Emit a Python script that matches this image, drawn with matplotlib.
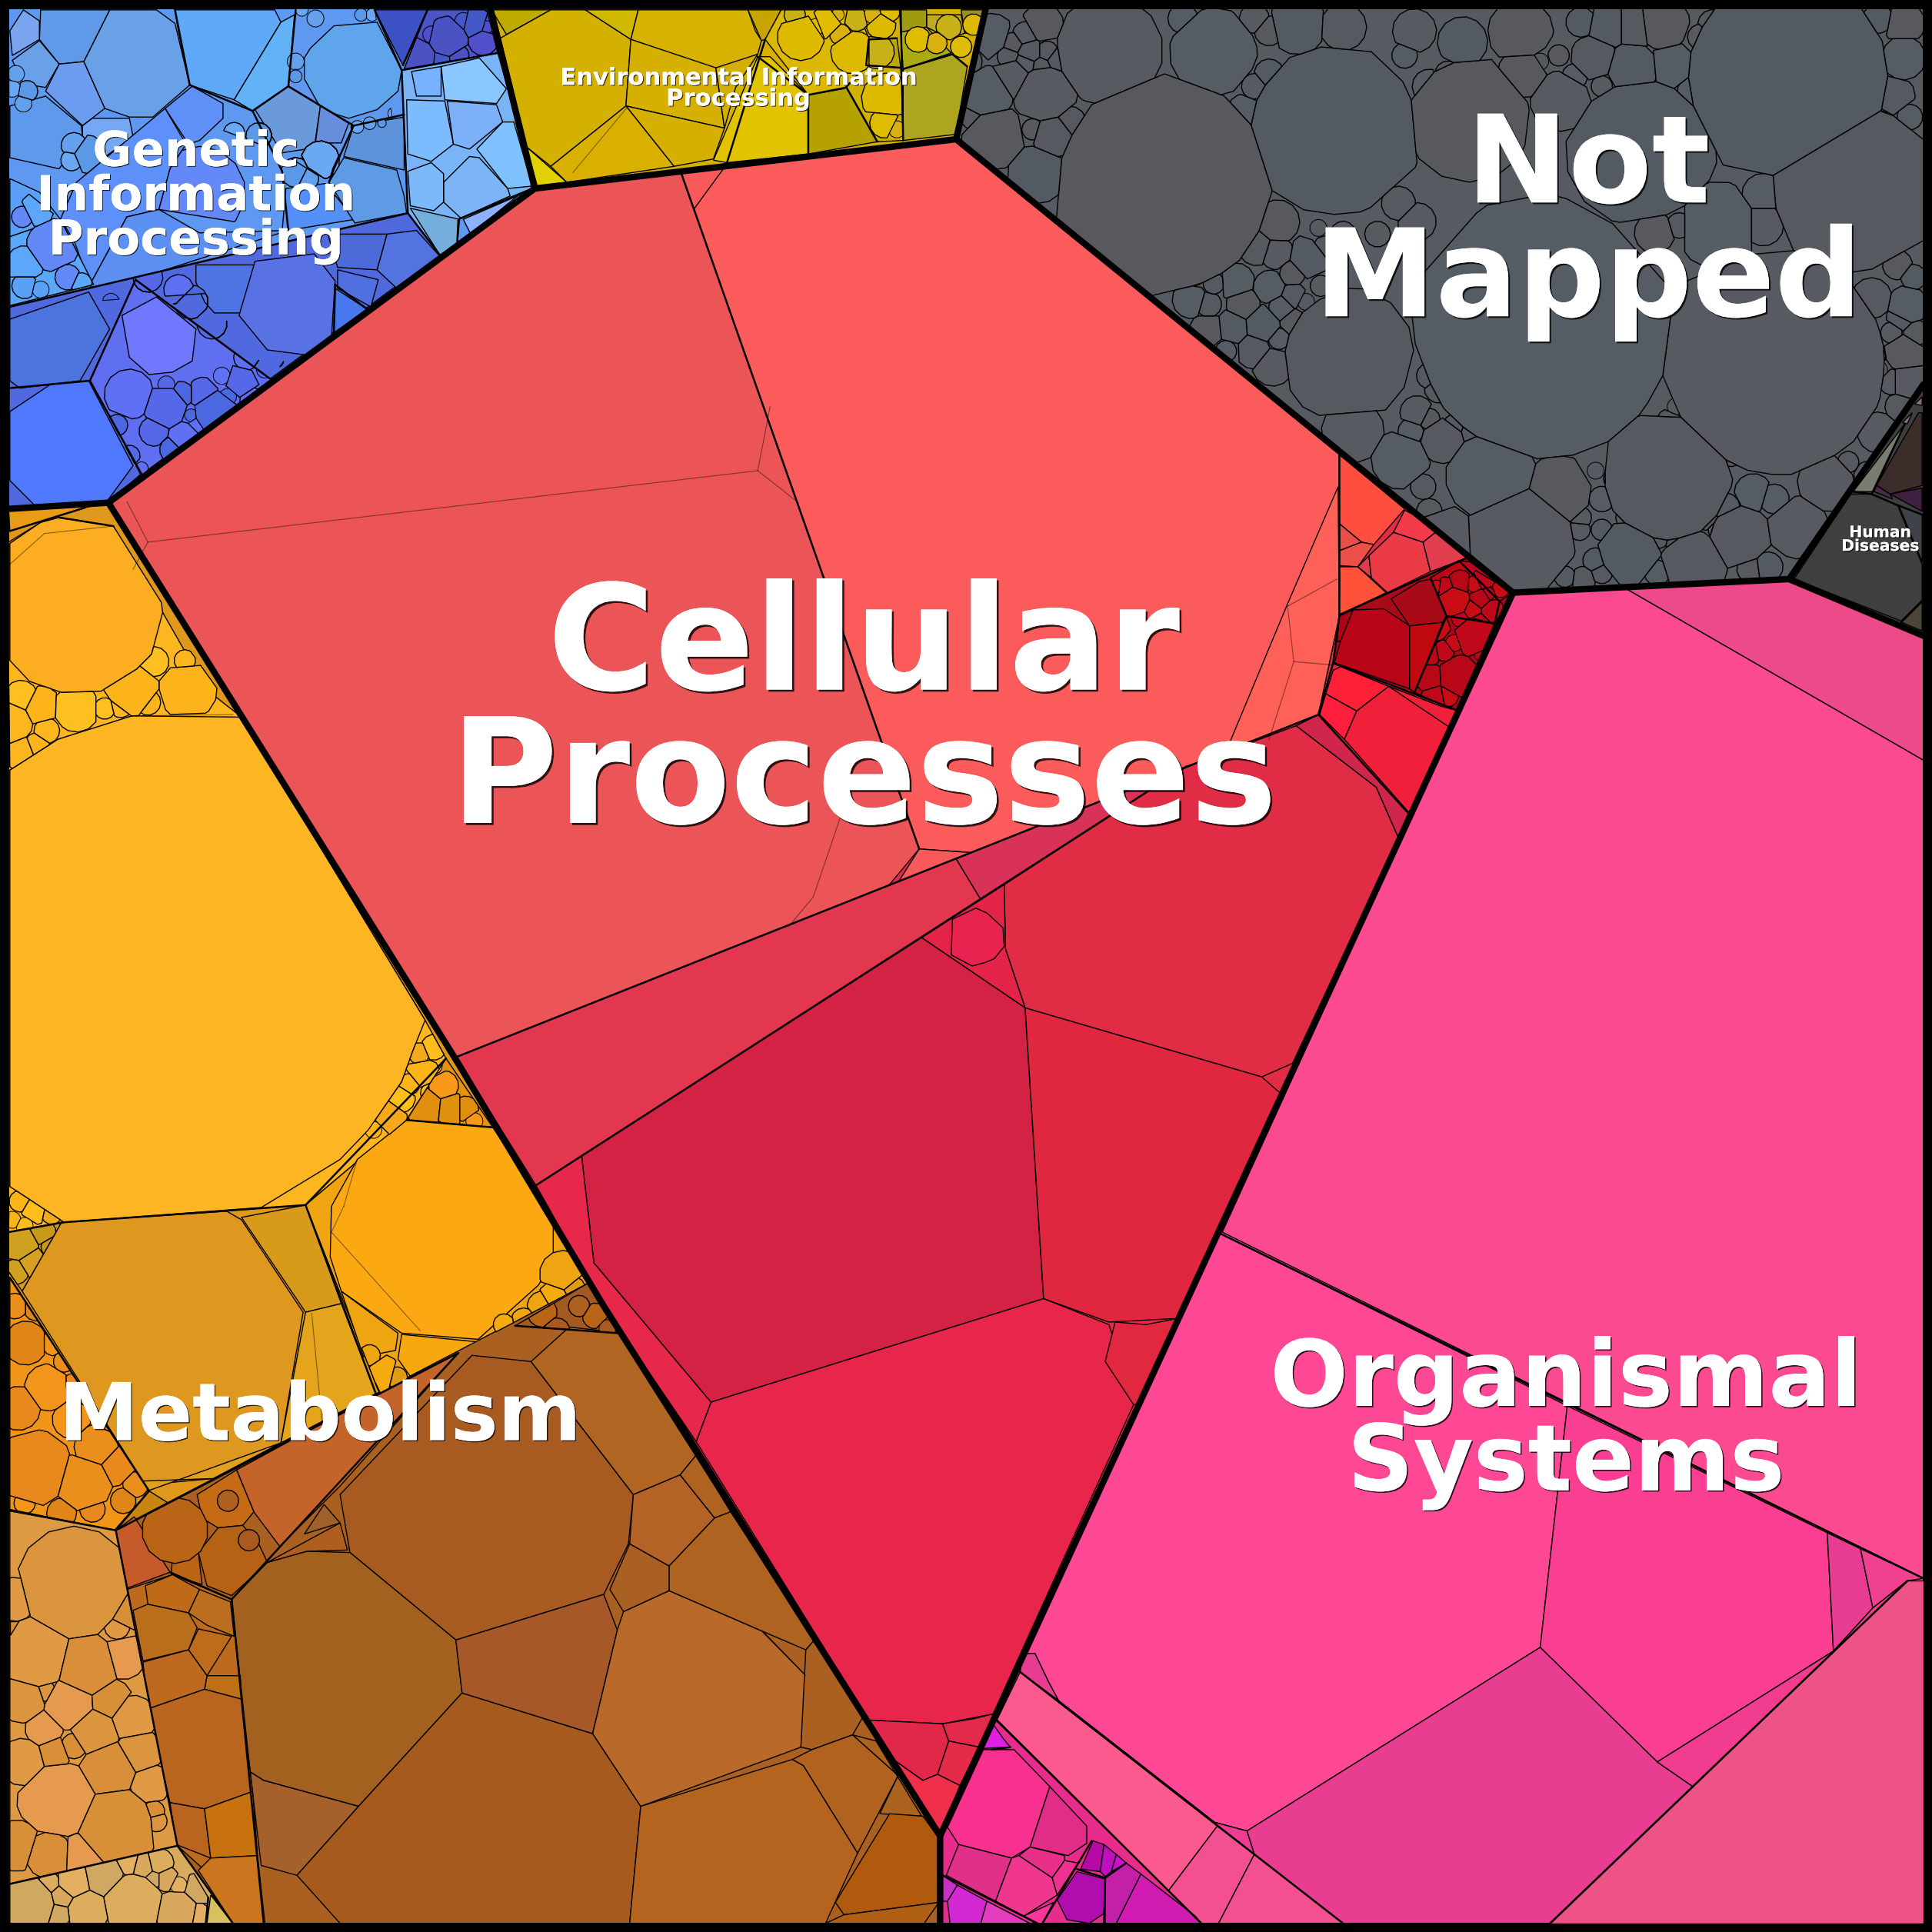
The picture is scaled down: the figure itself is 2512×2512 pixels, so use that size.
#!/usr/bin/env python

import matplotlib
matplotlib.use("Agg")
import matplotlib.pyplot as plt
import matplotlib.patheffects as pe
from matplotlib.patches import Polygon, Rectangle
import numpy as np

# top level regions and their fill under the cells
genetic_region = [(7,7),(398,7),(434,153),(88,408),(7,413)]
env_region = [(398,7),(800,7),(776,113),(434,153)]
notmapped_region = [(800,7),(1561,7),(1561,312),(1452,470),(1228,481),(776,113)]
disease_region = [(1561,312),(1561,516),(1452,470)]
organismal_region = [(1228,481),(1452,470),(1561,516),(1561,1561),(763,1561),(763,1490)]
metabolism_region = [(7,413),(88,408),(370,860),(490,1060),(763,1490),(763,1561),(7,1561)]
cellular_region = [(88,408),(434,153),(776,113),(1228,481),(763,1490),(370,860)]

region_fills = [
    (genetic_region, "#5E98F0"), (env_region, "#D5B000"), (notmapped_region, "#565B61"),
    (disease_region, "#3F3F40"), (organismal_region, "#FB4A90"),
    (metabolism_region, "#E0981C"), (cellular_region, "#E02D45"),
]

cellular_cells = [
    ("#EB5558", [(88,408),(434,153),(552,138),(746,689),(716,725),(370,858)]),
    ("#FB5B5B", [(552,138),(776,113),(1087,367),(1087,500),(1070,580),(789,692),(746,689)]),
    ("#FF6057", [(1086,395),(1087,500),(1070,580),(995,610),(1045,490)]),
    ("#F85A5A", [(552,138),(590,133),(563,170)]),
    ("#F85A5A", [(746,689),(789,692),(729,716)]),
    ("#E2374F", [(370,858),(776,697),(796,730),(435,962)]),
    ("#D93258", [(776,697),(963,622),(796,730)]),
    ("#E02D45", [(815,718),(963,622),(1052,589),(1117,639),(1135,680),(1049,863),(1024,874),(832,818),(816,770)]),
    ("#D0264C", [(1052,589),(1070,580),(1143,660),(1135,680),(1117,639)]),
    ("#E42348", [(748,761),(815,718),(816,770),(832,818)]),
    ("#E9234F", [(773,746),(792,737),(801,741),(814,753),(815,768),(807,778),(800,781),(789,784),(772,775)]),
    ("#D32244", [(472,938),(748,761),(832,818),(847,1054),(577,1138),(482,1025)]),
    ("#E1273F", [(832,818),(1024,874),(1040,888),(956,1070),(900,1073),(847,1054)]),
    ("#E8254A", [(577,1138),(847,1054),(900,1075),(920,1140),(806,1391),(765,1399),(705,1396),(565,1170)]),
    ("#E8284A", [(435,962),(472,938),(482,1025),(577,1138),(565,1170),(490,1060)]),
    ("#E1283F", [(897,1105),(905,1073),(930,1075),(956,1070),(924,1140),(920,1140)]),
    ("#E2284A", [(705,1396),(765,1399),(770,1413),(761,1440),(749,1445),(725,1428)]),
    ("#E4294A", [(765,1399),(790,1395),(806,1391),(795,1418),(770,1413)]),
    ("#F0304A", [(725,1428),(749,1445),(761,1440),(779,1449),(763,1490)]),
    ("#E52A4A", [(770,1413),(795,1418),(779,1449),(761,1440)]),
    # red corner on the right
    ("#FF4E40", [(1087,369),(1140,413),(1115,442),(1105,440),(1087,425)]),
    ("#E94E48", [(1087,425),(1105,440),(1087,447)]),
    ("#EC5048", [(1087,447),(1105,440),(1115,442),(1102,460),(1087,459)]),
    ("#FF5238", [(1087,460),(1102,460),(1125,481),(1087,499)]),
    ("#E03C4C", [(1102,460),(1111,451),(1113,469)]),
    ("#E93A45", [(1111,451),(1131,432),(1155,440),(1161,464),(1126,481),(1113,469)]),
    ("#F23A4A", [(1140,414),(1131,432),(1155,440),(1169,429)]),
    ("#E33D50", [(1155,440),(1169,429),(1184,447),(1190,453),(1161,464)]),
    ("#A90A1A", [(1087,499),(1190,453),(1228,481),(1184,577),(1082,538)]),
    ("#B80518", [(1098,495),(1123,494),(1144,508),(1144,559),(1083,538),(1088,520)]),
    ("#A80A18", [(1129,486),(1152,472),(1161,470),(1174,499),(1171,505),(1144,508)]),
    ("#C00A10", [(1144,508),(1171,505),(1148,562),(1144,559)]),
    ("#B00015", [(1087,500),(1098,495),(1088,520),(1085,521)]),
    ("#BC0515", [(1161,469),(1184,455),(1217,488),(1213,506),(1174,500)]),
    ("#BB0420", [(1184,455),(1193,456),(1228,481),(1217,488)]),
    ("#A80818", [(1174,500),(1213,506),(1182,577),(1148,562)]),
    ("#F01F3A", [(1091,600),(1101,577),(1127,557),(1169,573),(1176,590),(1144,660)]),
    ("#FF1E3C", [(1071,580),(1076,563),(1101,577),(1091,600)]),
    ("#FF2038", [(1082,544),(1088,541),(1127,557),(1101,577),(1076,563)]),
    ("#F02038", [(1127,557),(1169,573),(1184,577),(1176,590)]),
]

organismal_cells = [
    ("#EC4A88", [(1320,478),(1452,470),(1561,516),(1561,617)]),
    ("#FB4A8F", [(1228,481),(1320,478),(1561,617),(1561,1281),(992,1000)]),
    ("#FE4896", [(988,1000),(1272,1141),(1250,1337),(1012,1486),(986,1479),(859,1380),(851,1365),(840,1342),(830,1342)]),
    ("#FA3F92", [(1272,1141),(1483,1244),(1488,1340),(1345,1430),(1250,1337)]),
    ("#E93D92", [(1012,1486),(1250,1337),(1345,1430),(1374,1450),(1258,1561),(1090,1561),(1018,1505)]),
    ("#E83C92", [(1483,1244),(1510,1257),(1520,1305),(1488,1340)]),
    ("#F04090", [(1510,1257),(1561,1281),(1548,1283),(1520,1305)]),
    ("#F23C90", [(1345,1430),(1488,1340),(1520,1305),(1548,1283),(1374,1450)]),
    ("#ED5387", [(1548,1283),(1561,1283),(1561,1561),(1258,1561)]),
    ("#FB5A8E", [(828,1357),(988,1482),(948,1535),(809,1396)]),
    ("#F25090", [(988,1482),(1018,1505),(989,1561),(975,1561),(948,1535)]),
    ("#F35090", [(1018,1505),(1090,1561),(989,1561)]),
    ("#E83C92", [(828,1357),(830,1342),(840,1342),(851,1365),(859,1380)]),
    ("#EE3C92", [(986,1479),(1012,1486),(1018,1505),(988,1482)]),
    # cluster under the band
    ("#E82C8C", [(763,1490),(808,1396),(975,1561),(763,1561)]),
    ("#F8308F", [(798,1420),(823,1420),(852,1450),(836,1499),(821,1508),(778,1497),(769,1483)]),
    ("#E02E88", [(852,1450),(882,1482),(882,1496),(867,1506),(836,1499)]),
    ("#E0308A", [(778,1497),(821,1508),(808,1543),(768,1522)]),
    ("#F0378F", [(821,1508),(827,1506),(854,1524),(858,1538),(831,1555),(808,1543)]),
    ("#E8308A", [(827,1506),(836,1499),(864,1506),(864,1510),(854,1524)]),
    ("#EE3090", [(864,1510),(875,1512),(858,1538),(854,1524)]),
    ("#F8359A", [(831,1555),(855,1544),(846,1561),(840,1561)]),
    ("#C930C8", [(765,1522),(777,1530),(769,1543),(765,1543)]),
    ("#D528D5", [(777,1530),(801,1543),(796,1561),(771,1561),(769,1543)]),
    ("#E33DBE", [(801,1543),(836,1561),(796,1561)]),
    ("#B00DAE", [(874,1519),(897,1525),(896,1553),(884,1561),(866,1558),(858,1542)]),
    ("#B708A8", [(887,1494),(896,1497),(893,1519),(877,1517)]),
    ("#C010BE", [(896,1497),(906,1505),(902,1519),(897,1523),(893,1519)]),
    ("#CC10CC", [(906,1505),(914,1512),(902,1519)]),
    ("#C41FA8", [(914,1512),(926,1521),(906,1561),(897,1561),(897,1524)]),
    ("#D01CB0", [(926,1521),(970,1555),(975,1561),(906,1561)]),
    ("#E020E0", [(805,1398),(815,1412),(820,1418),(798,1419)]),
]

metabolism_cells = [
    ("#FDB61E", [(7,440),(33,424),(92,427),(168,560),(196,582),(345,828),(362,859),(330,909),(248,978),(52,992),(7,1000)]),
    ("#E89A18", [(7,413),(88,408),(69,412),(8,431)]),
    ("#FDAD22", [(33,424),(48,420),(92,427),(131,489),(132,497),(123,531),(111,543),(82,561),(50,562),(24,553),(8,536),(8,441)]),
    ("#FEB524", [(8,625),(47,600),(107,581),(196,582),(345,828),(335,853),(326,878),(299,917),(276,941),(212,980),(52,992),(8,963)]),
    ("#E59210", [(362,859),(400,915),(330,909)]),
    ("#EFA512", [(330,909),(400,915),(478,1041),(308,1131),(248,978)]),
    ("#FBA812", [(330,909),(400,915),(449,990),(449,1023),(437,1043),(388,1087),(326,1082),(277,1048),(268,1020),(269,979),(290,941)]),
    ("#F8A80F", [(326,1083),(387,1089),(333,1117),(323,1103)]),
    ("#EFA512", [(277,1048),(323,1082),(321,1096),(295,1101)]),
    ("#D59D20", [(7,1000),(50,992),(18,1048),(7,1032)]),
    ("#DE9820", [(50,992),(184,983),(196,990),(246,1065),(228,1171),(173,1200),(140,1203),(116,1202),(18,1048)]),
    ("#D79A1A", [(196,988),(248,978),(277,1058),(248,1065)]),
    ("#E4A51C", [(248,1065),(277,1058),(305,1131),(228,1171)]),
    ("#E0A020", [(116,1202),(173,1200),(228,1171),(120,1210)]),
    ("#F19518", [(8,1037),(121,1210),(93,1242),(8,1225)]),
    ("#C8850F", [(121,1210),(140,1222),(93,1242)]),
    # brown part
    ("#A96020", [(93,1242),(478,1041),(502,1082),(763,1490),(763,1561),(7,1561),(144,1498)]),
    ("#A35A22", [(418,1076),(478,1041),(502,1082)]),
    ("#A85B20", [(383,1100),(431,1105),(514,1213),(510,1253),(490,1294),(370,1331),(284,1260),(276,1213)]),
    ("#A3611F", [(188,1298),(217,1268),(249,1259),(284,1260),(370,1331),(375,1374),(291,1466),(214,1445),(203,1438)]),
    ("#A6602B", [(203,1438),(214,1445),(291,1466),(241,1522),(212,1514)]),
    ("#A65A1E", [(375,1374),(481,1407),(520,1466),(511,1561),(276,1561),(241,1522),(291,1466)]),
    ("#A65828", [(370,1331),(490,1294),(501,1323),(481,1407),(375,1374)]),
    ("#B96A2B", [(543,1291),(619,1324),(654,1360),(650,1418),(520,1466),(481,1407),(501,1323),(506,1308)]),
    ("#B06522", [(431,1105),(462,1077),(506,1082),(565,1181),(552,1197),(514,1213)]),
    ("#B56226", [(514,1213),(552,1197),(580,1232),(543,1271),(511,1253)]),
    ("#AE6320", [(552,1197),(565,1181),(593,1227),(580,1232)]),
    ("#AE6320", [(580,1232),(593,1227),(661,1331),(654,1339),(619,1324),(543,1291),(543,1271)]),
    ("#A96022", [(511,1253),(543,1271),(543,1291),(506,1308),(495,1290)]),
    ("#A96020", [(654,1339),(661,1331),(700,1394),(692,1408),(659,1420),(650,1418)]),
    ("#B1621F", [(659,1420),(692,1408),(729,1441),(696,1504),(652,1433),(643,1428)]),
    ("#B5641F", [(520,1466),(643,1428),(652,1433),(696,1504),(670,1561),(511,1561)]),
    ("#AD6320", [(692,1408),(711,1413),(748,1474),(714,1472),(729,1441)]),
    ("#B05A0E", [(722,1472),(749,1474),(762,1492),(762,1544),(685,1554),(678,1544)]),
    ("#B06015", [(685,1554),(762,1544),(750,1561),(670,1561)]),
    ("#C4642A", [(192,1193),(306,1131),(372,1098),(276,1206),(227,1255),(206,1227)]),
    ("#C56A15", [(160,1213),(192,1193),(206,1227),(197,1238),(177,1240),(164,1232)]),
    ("#B56214", [(177,1240),(197,1238),(210,1253),(217,1268),(188,1295),(168,1287),(161,1260)]),
    ("#BB6415", [(139,1278),(140,1263),(161,1260),(164,1286)]),
    ("#C75A2B", [(94,1242),(109,1231),(138,1276),(103,1289)]),
    ("#AF5E1F", [(276,1236),(282,1258),(249,1259),(217,1268)]),
    ("#A06028", [(263,1221),(276,1236),(247,1245)]),
    ("#BD6A1E", [(140,1278),(188,1298),(214,1561),(144,1498),(103,1290)]),
    ("#BF6A18", [(118,1287),(140,1278),(162,1290),(153,1309),(120,1302)]),
    ("#B96E1C", [(108,1307),(120,1302),(153,1309),(160,1321),(153,1339),(116,1348)]),
    ("#BD6C1C", [(161,1322),(188,1328),(168,1360),(153,1339)]),
    ("#BB6E1E", [(153,1309),(162,1290),(187,1300),(190,1328),(168,1319)]),
    ("#BE7018", [(168,1360),(195,1360),(196,1379),(166,1371)]),
    ("#BD6A20", [(116,1349),(153,1339),(168,1360),(166,1371),(120,1387)]),
    ("#B96520", [(120,1387),(166,1371),(196,1379),(205,1454),(166,1468),(138,1463)]),
    ("#B96520", [(138,1463),(166,1468),(171,1508),(143,1497)]),
    ("#C8720F", [(166,1468),(205,1454),(209,1506),(171,1508)]),
    ("#CB7520", [(161,1518),(171,1508),(209,1506),(215,1561),(189,1561)]),
    # light parts at the lower left
    ("#DE9A42", [(8,1226),(94,1242),(144,1498),(8,1529)]),
    ("#D8AA5B", [(8,1529),(144,1498),(189,1561),(8,1561)]),
    ("#D8C060", [(171,1538),(189,1561),(168,1561)]),
]

env_cells = [
    ("#BFAA00", [(399,8),(447,8),(411,28)]),
    ("#D4B000", [(447,8),(475,8),(512,32),(508,86),(447,135),(427,119),(406,31)]),
    ("#D1B800", [(475,8),(518,8),(512,32)]),
    ("#D7B200", [(518,8),(607,8),(613,25),(618,33),(615,44),(582,56),(512,32)]),
    ("#D6B000", [(512,32),(581,55),(588,104),(508,86)]),
    ("#D6B000", [(508,86),(588,104),(579,129),(547,135)]),
    ("#DAB000", [(508,86),(547,135),(460,148),(447,135)]),
    ("#D4AE00", [(581,55),(615,44),(597,71),(588,104)]),
    ("#C8A400", [(607,8),(634,8),(621,32),(618,33)]),
    ("#E2C300", [(615,46),(625,46),(656,77),(656,125),(590,132),(579,130)]),
    ("#B5A200", [(656,77),(687,71),(712,115),(656,125)]),
    ("#DCB800", [(621,32),(634,8),(696,8),(705,31),(703,53),(685,72),(656,77)]),
    ("#D0B000", [(703,53),(731,55),(733,114),(712,115),(687,71)]),
    ("#B8A800", [(705,32),(728,31),(731,55),(703,53)]),
    ("#ADA520", [(733,56),(773,44),(785,54),(776,109),(733,114)]),
    ("#A8AC10", [(731,26),(752,22),(772,43),(733,56)]),
    ("#C0A828", [(752,12),(780,12),(783,27),(770,31),(752,22)]),
    ("#9A9020", [(780,8),(800,8),(791,26),(783,27)]),
    ("#A09A10", [(730,8),(752,8),(752,22),(731,26)]),
    ("#E2D000", [(427,119),(460,148),(436,151)]),
]

genetic_cells = [
    ("#6AA0E8", [(89,8),(127,8),(142,19),(154,69),(124,95),(105,95),(85,88),(68,50)]),
    ("#5F99E8", [(33,8),(89,8),(68,50),(48,52),(32,32)]),
    ("#6C9CF0", [(48,52),(68,50),(85,88),(67,102),(37,74)]),
    ("#7AA5EE", [(8,25),(19,8),(32,17),(32,32),(10,45)]),
    ("#6AA0E8", [(10,49),(32,33),(48,52),(37,71),(19,68)]),
    ("#5F99EC", [(8,86),(37,78),(66,102),(67,111),(48,137),(8,128)]),
    ("#74A8F4", [(75,96),(105,96),(108,111),(80,131),(67,111),(67,102)]),
    ("#60A8F8", [(142,8),(223,8),(228,18),(190,81),(154,69),(145,26)]),
    ("#62B2F8", [(228,18),(239,12),(234,70),(205,90),(190,81)]),
    ("#5FA5EC", [(252,39),(271,21),(306,18),(326,57),(323,74),(306,89),(283,96),(261,89),(247,64),(247,47)]),
    ("#5E90F8", [(134,88),(156,70),(181,84),(181,96),(162,114),(153,117)]),
    ("#5D90F8", [(62,148),(134,88),(151,117),(138,137),(129,170),(103,176),(73,231),(60,195),(49,178)]),
    ("#5490F8", [(229,187),(232,153),(264,149),(288,178),(234,187)]),
    ("#6A9ADC", [(207,89),(234,70),(260,86),(255,120),(229,124)]),
    ("#668EDC", [(260,86),(283,100),(277,116),(256,116)]),
    ("#5D93DA", [(279,127),(328,138),(328,95),(287,102)]),
    ("#5F9AE4", [(279,128),(322,138),(328,159),(330,173),(288,181),(267,148)]),
    ("#5B8FF2", [(73,231),(103,176),(129,170),(162,189),(234,187),(75,238)]),
    ("#5BA8FA", [(8,192),(49,178),(76,231),(8,248)]),
    ("#5BA0F8", [(8,145),(32,156),(49,178),(8,192)]),
    ("#5069DE", [(8,249),(331,173),(357,206),(114,385),(88,408),(7,413)]),
    ("#4D74DE", [(8,259),(72,237),(89,267),(65,309),(16,315),(8,309)]),
    ("#5F6FF0", [(110,227),(220,308),(115,385),(73,309)]),
    ("#6F78FF", [(99,256),(127,241),(159,267),(156,293),(140,302),(121,304),(105,290)]),
    ("#4F78FC", [(8,334),(41,312),(72,309),(108,378),(86,408),(29,411),(8,390)]),
    ("#4E73E2", [(159,215),(207,215),(196,254),(174,254),(166,245),(159,229)]),
    ("#5872E4", [(207,212),(255,206),(272,228),(269,274),(248,288),(217,284),(194,256)]),
    ("#5374E0", [(314,190),(338,187),(357,208),(322,234),(306,219)]),
    ("#4C6AD8", [(266,190),(314,190),(306,219),(274,217)]),
    ("#5070E0", [(274,219),(307,227),(301,249),(274,234)]),
    ("#4878F0", [(272,234),(298,251),(271,270)]),
    ("#7AB4F8", [(326,57),(404,43),(435,153),(372,178),(357,207),(331,173)]),
    ("#7DBBFF", [(330,81),(361,82),(368,117),(350,131),(331,125)]),
    ("#8AC6FF", [(358,54),(389,47),(411,72),(403,84),(361,81)]),
    ("#78B2FF", [(334,58),(358,54),(358,78),(338,78)]),
    ("#7CB0F8", [(363,82),(403,85),(408,99),(381,121),(368,117)]),
    ("#7FC0FF", [(408,99),(417,99),(432,151),(412,153),(387,121)]),
    ("#7CB4F5", [(360,148),(381,127),(389,128),(412,153),(414,159),(374,177),(360,164)]),
    ("#7CB9FA", [(331,139),(350,132),(360,141),(360,164),(352,171),(333,167)]),
    ("#75AEDD", [(333,169),(373,178),(371,199),(357,207)]),
    ("#8DB0FF", [(376,178),(420,159),(382,190)]),
    ("#3C52C4", [(304,8),(347,8),(327,53)]),
    ("#4B55C8", [(347,8),(395,8),(404,43),(328,56)]),
]

disease_cells = [
    ("#3F3F40", [(1502,401),(1519,401),(1540,410),(1560,458),(1560,487),(1543,504),(1456,470)]),
    ("#40424A", [(1541,410),(1560,418),(1560,456)]),
    ("#4D453A", [(1543,505),(1560,488),(1560,512)]),
    ("#797D70", [(1504,399),(1546,344),(1521,399)]),
    ("#3D2D2A", [(1523,394),(1557,335),(1560,335),(1560,394),(1534,401)]),
    ("#3E2040", [(1534,401),(1560,396),(1560,415)]),
    ("#4A2A48", [(1521,399),(1523,394),(1534,401),(1536,405)]),
    ("#8C6A8C", [(1544,343),(1552,335),(1548,344)]),
    ("#8A6A8A", [(1554,328),(1560,322),(1560,329)]),
]

# small round cells, centre x, centre y, radius
notmapped_bubbles = [
    (899,41,40),(985,42,32),(945,150,85),(1082,106,66),(1093,288,49),(848,76,21),(800,76,18),
    (807,111,21),(842,141,19),(855,110,14),(822,62,12),(805,30,11),(846,20,10),(1053,20,19),
    (1090,22,15),(1148,25,14),(967,243,9),(981,268,9),(1025,264,11),(1018,284,9),(1033,296,10),
    (1003,229,9),(1037,180,14),(1062,210,12),(1020,200,9),(1036,205,8),(1031,233,8),(1009,247,8),
    (1000,266,9),(981,247,6),(1098,350,20),(1137,373,19),(1049,222,6),
    (1451,62,80),(1505,152,65),(1441,295,88),(1252,270,100),(1192,96,46),(1332,122,55),(1353,388,50),
    (1234,438,42),(1395,183,28),(1234,26,21),(1187,34,16),(1411,435,22),(1459,428,20),(1210,385,33),
    (1265,400,24),(1322,447,23),(1374,456,23),(1483,391,19),(1423,400,9),(1236,59,16),(1324,56,17),
    (1293,47,15),(1267,81,20),(1358,53,12),(1350,19,17),(1304,22,12),(1327,22,11),(1548,310,11),
    (1548,248,13),(1545,286,12),(1543,258,7),(1519,242,13),(1524,351,13),(1545,47,14),(1545,19,10),
    (1524,15,7),(1537,78,10),(1431,183,13),(1431,158,10),(1343,189,13),(1363,183,6),(1171,357,15),
    (1169,441,25),
    (832,28,6),(822,35,5),(836,42,7),(850,42,5),(818,46,5),(832,52,6),(845,54,5),(858,48,6),
    (868,100,8),(875,120,5),(880,140,5),(838,105,5),(785,50,7),(790,95,6),(1018,70,6),(1010,90,8),
    (1020,110,5),(1030,60,7),(1000,95,5),(1018,15,7),(960,15,7),(1030,25,7),
    (1050,240,6),(1060,245,4),(1072,232,5),(1040,250,6),(1050,262,7),(1062,262,5),(1058,280,7),
    (1075,262,6),(1038,275,5),(1005,190,6),(1075,200,5),(1090,190,6),(1070,185,4),
    (995,285,5),(970,225,4),(985,230,5),(1200,330,6),(1118,190,6),(1160,70,8),(1175,60,6),
    (1225,100,6),(1135,165,8),(1150,180,9),(1140,45,6),(1390,20,7),(1405,40,6),(1392,60,10),
    (1380,30,6),(1375,75,8),(1265,45,5),(1283,18,7),(1250,50,4),(1300,70,5),(1278,62,6),
    (1490,18,8),(1535,135,7),(1545,130,6),(1525,100,6),(1550,95,6),(1540,215,7),(1553,225,6),
    (1555,270,6),(1535,270,5),(1515,270,5),(1500,340,7),(1510,320,5),(1542,330,7),(1535,310,6),
    (1520,290,6),(1525,300,4),(1295,455,6),(1282,430,5),(1283,420,5),(1300,405,6),
    (1420,430,5),(1400,412,7),(1385,420,6),(1390,405,5),(1440,405,7),(1395,430,5),(1362,440,6),
    (1345,435,6),(1295,382,4),(1310,388,5),(1320,420,5),(1300,430,5),(1355,342,6),(1380,350,5),
    (1375,360,6),(1360,330,4),(1160,305,6),(1168,315,7),(1150,335,8),(1145,350,6),(1160,340,5),
    (1180,345,5),(1155,395,6),(1160,415,6),(1185,470,7),(1205,467,6),(1270,468,5),(1285,470,6),
    (1300,465,5),(1345,465,6),(1420,462,6),(1435,460,7),(1195,350,6),(1405,370,5),(1410,355,5),
    (1528,375,6),(1515,385,6),(1500,375,5),(1495,440,6),(1480,455,6),
]

gold_bubbles = [(8,587,15),(33,574,10),(17,566,8),(17,610,9),(30,605,6),(60,610,5),(38,593,6),(152,560,19),(125,537,7),(150,536,5),(107,560,18),(62,575,15),(98,572,6),(120,570,6),(85,575,5)]
strip_bubbles = [
    (343,871,8),(325,891,7),(315,905,9),(303,917,4),(352,850,6),(340,855,5),(332,880,5),
    (350,887,5),(16,975,5),(28,982,7),(42,985,5),(10,990,4),(20,995,4),
]
triangle_bubbles = [(346,898,10),(360,881,7),(366,900,8),(378,900,6),(385,910,4),(352,865,4)]
orange_bubbles = [
    (457,1034,11),(450,1054,8),(466,1045,5),(440,1060,7),(310,1115,9),(322,1118,5),(300,1100,5),
    (300,1120,5),(292,1110,4),(425,1072,6),(409,1075,5),
]
olive_bubbles = [(17,1010,11),(35,1000,6),(26,1024,8),(13,1032,6),(42,1012,5)]
amber_bubbles = [
    (28,1193,26),(68,1204,20),(39,1126,15),(21,1090,14),(15,1143,14),(78,1174,14),(44,1090,6),
    (30,1060,7),(60,1125,6),(52,1105,5),(58,1152,9),(88,1150,8),(95,1190,11),(110,1205,6),
    (20,1220,5),(50,1228,7),(75,1225,6),(12,1060,6),(70,1100,3),(100,1218,6),
]
brown_bubbles = [(142,1242,21),(440,1065,7),(452,1080,6),(470,1060,5),(483,1068,6),(493,1078,4),(202,1250,5),(185,1218,5)]
tan_bubbles = [
    (60,1286,42),(28,1342,27),(70,1352,22),(56,1383,17),(89,1381,11),(77,1406,16),(108,1395,15),
    (89,1436,20),(48,1460,27),(95,1481,28),(18,1378,16),(18,1430,15),(40,1506,15),(65,1507,11),
    (14,1498,12),(113,1422,15),(122,1448,13),(44,1423,8),(36,1403,9),(60,1417,6),(36,1372,5),
    (12,1298,14),(12,1332,12),(100,1344,11),(100,1310,9),(127,1478,5),(95,1320,6),(125,1470,5),
]
sand_bubbles = [
    (21,1546,22),(108,1544,22),(144,1551,15),(60,1527,11),(85,1522,14),(129,1512,7),(116,1515,7),
    (104,1512,7),(160,1534,8),(71,1551,14),(50,1539,6),(160,1554,6),(47,1554,6),(40,1528,5),
    (135,1525,6),(145,1530,4),(125,1525,4),(95,1525,3),
]
env_bubbles = [
    (650,30,15),(672,18,8),(682,28,5),(695,15,6),(692,42,14),(662,22,4),(680,12,3),(645,12,5),
    (715,20,7),(722,9,5),(708,12,4),(712,42,8),(720,80,12),(718,100,7),(728,105,4),(725,62,6),
    (745,32,6),(760,35,5),(770,22,6),(790,20,5),(780,38,5),(590,26,3),
]
redcorner_bubbles = [
    (1180,488,11),(1185,473,6),(1173,477,5),(1197,474,4),(1202,486,6),(1210,495,6),(1195,495,5),
    (1200,505,5),(1185,502,4),(1166,476,3),
    (1184,549,14),(1197,516,14),(1165,510,7),(1160,530,6),(1172,528,5),(1180,522,4),(1160,550,7),
    (1165,567,7),(1175,565,5),(1203,530,4),
    (1205,470,6),(1218,478,4),(1208,482,3),
]
blue_mid_bubbles = [(162,156,33),(43,199,17),(30,170,8),(40,160,4),(18,176,5),(20,215,9),(20,232,6),(55,225,6),(66,230,5),(33,235,4)]
blue_top_bubbles = [
    (60,118,6),(70,125,9),(58,130,5),(19,84,4),(22,74,5),(10,72,4),(13,60,4),(210,110,6),(190,108,5),
    (178,117,5),(185,130,6),(200,125,5),(215,130,5),(160,125,8),(190,150,9),(205,148,8),(220,160,4),
    (260,130,9),(250,145,5),(240,140,7),(245,8,3),(256,15,4),(293,12,3),(302,12,3),(240,50,4),(240,62,3),
    (290,103,3),(300,100,3),(310,100,2),(320,92,3),
]
blue_low_bubbles = [
    (172,263,7),(155,245,8),(145,235,7),(120,225,7),(90,245,4),(200,290,6),(215,300,4),(225,293,3),
    (105,320,16),(135,330,15),(175,335,16),(150,355,10),(165,320,8),(147,320,6),(160,345,4),
    (195,310,9),(185,322,4),(205,325,6),(125,350,7),(140,365,6),(115,380,3),(105,370,5),(95,345,5),
    (180,305,4),(135,312,4),(155,337,3),
]
blue_top_right_bubbles = [(363,31,14),(385,19,8),(392,33,7),(341,46,11),(376,17,4),(395,22,3),(372,45,5),(358,48,4),(350,28,4)]

notmapped_colors = ["#575B61", "#555C63", "#58595E", "#535A62", "#565A60"]
gold_colors = ["#FDB61E", "#FCB41A", "#FEC020"]
strip_colors = ["#FBB518", "#FDBE1C", "#F3A91A"]
orange_colors = ["#EFA512", "#F5AA0E", "#E39C12"]
triangle_colors = ["#E28E0E", "#F89818", "#DE900E"]
olive_colors = ["#D0A020", "#C89818", "#D8A020"]
amber_colors = ["#E8881D", "#EA8F1C", "#F4951B", "#E08518"]
brown_colors = ["#B96416", "#A85A20", "#AD6020"]
tan_colors = ["#DC953F", "#E09A45", "#D98F3A", "#E59A50", "#D89038"]
sand_colors = ["#D0A862", "#DCAC5F", "#D8A85E", "#E2B060"]
env_colors = ["#DDB900", "#E0BC00", "#D8B010", "#C8B018"]
redcorner_colors = ["#C80C14", "#B80818", "#C0081A"]
blue_mid_colors = ["#6388F8", "#5CA6FC", "#5AA0F4"]
blue_top_colors = ["#64A0EC", "#5C98E8", "#6AA8F4"]
blue_low_colors = ["#5468E8", "#4C68E0", "#5F70F4"]
blue_tr_colors = ["#4A52C4", "#4458C8", "#5050CC"]

amber_clip = [(8,1037),(121,1210),(93,1242),(8,1225)]
tan_clip = [(8,1226),(94,1242),(144,1498),(8,1529)]
sand_clip = [(8,1529),(144,1498),(169,1540),(168,1561),(8,1561)]
strip_clip = [(345,828),(362,859),(330,909),(248,978),(212,980),(276,941),(299,917),(326,878),(335,853)]
strip_left_clip = [(8,963),(52,992),(7,1000)]
gold_clip = [(7,536),(24,553),(50,562),(82,561),(111,543),(123,531),(132,497),(190,578),(107,581),(47,600),(8,625)]
triangle_clip = [(362,859),(400,915),(330,909)]
olive_clip = [(7,1000),(50,992),(18,1048),(7,1032)]
brown_corner_clip = [(418,1076),(478,1041),(502,1082)]
brown_left_clip = [(94,1242),(372,1098),(276,1206),(188,1298),(103,1290)]
orange_clip = [(330,909),(400,915),(478,1041),(308,1131),(248,978)]
env_clip = [(621,32),(634,8),(730,8),(733,114),(712,115),(687,71),(656,77)]
env_right_clip = [(731,8),(800,8),(785,54),(733,56)]
redcorner_clip = [(1161,469),(1184,455),(1228,481),(1213,506),(1182,577),(1148,562),(1174,500)]
blue_top_clip = [(7,7),(304,7),(331,173),(234,187),(229,139),(205,90),(234,70),(286,102),(270,137),(267,148),(229,124),(134,88),(62,148),(49,178),(8,192)]
blue_low_clip = [(8,249),(331,173),(357,206),(88,408),(114,385),(73,309),(110,227),(220,308),(272,231)]
blue_tr_clip = [(347,8),(395,8),(404,43),(328,56)]
blue_mid_clip = [(8,145),(49,178),(76,231),(8,248)]
blue_center_clip = [(134,88),(151,117),(138,137),(129,170),(234,187),(229,124)]

# regions filled edge to edge by their cells
tessellated_sets = [
    (notmapped_region, notmapped_bubbles, notmapped_colors),
    (gold_clip, gold_bubbles, gold_colors),
    (strip_clip, strip_bubbles[:8], strip_colors),
    (strip_left_clip, strip_bubbles[8:], strip_colors),
    (triangle_clip, triangle_bubbles, triangle_colors),
    (olive_clip, olive_bubbles, olive_colors),
    (amber_clip, amber_bubbles, amber_colors),
    (brown_corner_clip, brown_bubbles[1:6], brown_colors),
    (tan_clip, tan_bubbles, tan_colors),
    (sand_clip, sand_bubbles, sand_colors),
    (env_right_clip, env_bubbles[15:], env_colors),
    (redcorner_clip, redcorner_bubbles, redcorner_colors),
    (blue_mid_clip, blue_mid_bubbles[1:], blue_mid_colors),
    (blue_tr_clip, blue_top_right_bubbles, blue_tr_colors),
]

# cells that sit in a region on top of larger traced cells
loose_sets = [
    (orange_clip, orange_bubbles, orange_colors),
    (brown_left_clip, brown_bubbles[:1] + brown_bubbles[6:], brown_colors),
    (env_clip, env_bubbles[:15], env_colors),
    (blue_center_clip, blue_mid_bubbles[:1], blue_mid_colors),
    (blue_top_clip, blue_top_bubbles, blue_top_colors),
    (blue_low_clip, blue_low_bubbles, blue_low_colors),
]

# faint inner lines
faint_lines = [
    [(120,440),(615,382),(648,408)], [(615,382),(625,330)], [(120,440),(103,407)], [(120,440),(108,462)],
    [(1045,492),(1050,537),(1030,600)], [(1045,492),(1085,470)], [(1050,537),(1086,540)],
    [(36,433),(92,427)], [(36,433),(8,458)], [(8,625),(47,600),(107,581),(189,580)],
    [(279,979),(269,1000),(341,1080)], [(279,979),(290,941)], [(253,1066),(262,1160)],
    [(465,140),(510,86)], [(660,728),(690,640)], [(640,752),(660,728)],
    [(214,1445),(291,1466)], [(619,1325),(654,1360)],
]

# medium black boundaries between pathway groups
mid_lines = [
    [(370,858),(1070,580)], [(435,962),(963,622)], [(1087,367),(1087,500)], [(1087,499),(1190,453)],
    [(1082,538),(1184,577)], [(1070,580),(1143,660)], [(1161,469),(1174,500),(1148,562)],
    [(1174,500),(1213,506)], [(1184,455),(1217,488),(1213,506)], [(1087,500),(1082,538),(1070,580)],
    [(552,138),(746,689)], [(988,1000),(1561,1281)], [(828,1357),(1090,1561)], [(809,1396),(975,1561)],
    [(1548,1283),(1258,1561)],
    [(8,431),(69,412)], [(48,420),(92,427)], [(52,992),(248,978)], [(7,1000),(52,992)], [(248,978),(305,1131)],
    [(248,978),(362,859)], [(330,909),(400,915)], [(8,1037),(121,1210)], [(121,1210),(94,1242)],
    [(94,1242),(372,1098)], [(372,1098),(188,1298)], [(188,1298),(214,1561)], [(138,1276),(188,1298)],
    [(94,1242),(144,1498),(8,1529)], [(8,1226),(94,1242)], [(144,1498),(189,1561)], [(169,1540),(167,1561)],
    [(418,1076),(502,1082)],
    [(590,132),(621,32)], [(615,46),(656,77),(656,125)], [(656,77),(687,71),(712,115)],
    [(731,8),(733,114)], [(703,53),(731,55)], [(733,56),(773,44),(785,54)], [(703,53),(705,32),(728,31)],
    [(142,8),(154,69),(205,90),(234,70),(240,8)], [(234,70),(287,102),(328,93)], [(205,90),(229,139),(234,187)],
    [(287,102),(271,137),(267,148)], [(326,57),(404,43)], [(326,57),(304,8)], [(327,53),(347,8)], [(326,57),(331,173),(357,207)],
    [(8,249),(331,173)], [(110,227),(220,308)], [(110,227),(73,309),(115,385)], [(8,315),(73,309)],
    [(272,231),(271,270)], [(272,231),(298,251)], [(371,199),(372,178),(432,153)],
    [(765,1522),(842,1561)], [(886,1494),(846,1561)], [(874,1517),(897,1524),(914,1512)], [(897,1524),(896,1561)],
    [(805,1420),(820,1418)],
    [(1504,399),(1519,401),(1540,410),(1561,418)], [(1543,505),(1560,488)], [(1519,401),(1546,344)],
]

thick_lines = [
    [(7,413),(88,408),(434,153),(776,113),(1228,481)],
    [(398,7),(434,153)], [(800,7),(776,113)],
    [(88,408),(370,860),(490,1060),(763,1490),(763,1561)],
    [(1228,481),(763,1490)], [(1228,481),(1452,470),(1561,516)], [(1452,470),(1561,312)],
]

group_labels = ["Cellular\nProcesses", "Not\nMapped", "Organismal\nSystems", "Metabolism",
                "Genetic\nInformation\nProcessing", "Environmental Information\nProcessing", "Human\nDiseases"]
label_x = [701, 1289, 1271, 260, 159, 599, 1526]
label_y = [581, 183, 1155, 1151, 160, 72, 438]
label_size = [68.5, 57, 43, 37.3, 22.5, 11, 7.3]
label_spacing = [0.92, 0.95, 0.92, 0.92, 0.95, 0.92, 0.92]


def clip_half_plane(points, a, b, c):
    # keep the part of the polygon where a*x + b*y <= c
    kept = []
    for i in range(len(points)):
        p = points[i]
        q = points[(i + 1) % len(points)]
        dp = a * p[0] + b * p[1] - c
        dq = a * q[0] + b * q[1] - c
        if dp <= 0:
            kept.append(p)
        if (dp < 0 and dq > 0) or (dp > 0 and dq < 0):
            t = dp / (dp - dq)
            kept.append((p[0] + t * (q[0] - p[0]), p[1] + t * (q[1] - p[1])))
    return kept


def power_cell(i, sites, region):
    # the weighted cell of one site, rounded off so gaps keep their own small shapes
    xi, yi, ri = sites[i]
    cell = list(region)
    for j, (xj, yj, rj) in enumerate(sites):
        if j == i or not cell:
            continue
        a = 2 * (xj - xi)
        b = 2 * (yj - yi)
        c = xj**2 + yj**2 - rj**2 - xi**2 - yi**2 + ri**2
        cell = clip_half_plane(cell, a, b, c)
    # big cells stay round, small ones spread to close the network
    reach = 1.1 if ri > 30 else 1.25 if ri > 12 else 1.7
    for angle in np.linspace(0, 2 * np.pi, 14, endpoint=False) + i * 0.4:
        if not cell:
            break
        a, b = np.cos(angle), np.sin(angle)
        cell = clip_half_plane(cell, a, b, a * xi + b * yi + reach * ri)
    return cell


fig = plt.figure(figsize=(12.56, 12.56), dpi=200, facecolor="black")
ax = fig.add_axes([0, 0, 1, 1])
ax.set_xlim(0, 1568)
ax.set_ylim(1568, 0)
ax.axis("off")

THIN = 0.5

for points, fill in region_fills:
    ax.add_patch(Polygon(points, closed=True, facecolor=fill, edgecolor="black", linewidth=THIN, zorder=1))

for cells in (cellular_cells, organismal_cells, metabolism_cells, env_cells, genetic_cells, disease_cells):
    for fill, points in cells:
        ax.add_patch(Polygon(points, closed=True, facecolor=fill, edgecolor="black", linewidth=THIN, zorder=2))

for region, sites, colors in tessellated_sets + loose_sets:
    for i in range(len(sites)):
        cell = power_cell(i, sites, region)
        if len(cell) >= 3:
            ax.add_patch(Polygon(cell, closed=True, facecolor=colors[i % len(colors)], edgecolor="black",
                                 linewidth=THIN if sites[i][2] > 4 else 0.35, zorder=3))

for line in faint_lines:
    xs, ys = zip(*line)
    ax.plot(xs, ys, color="black", linewidth=0.4, alpha=0.45, zorder=4)

for line in mid_lines:
    xs, ys = zip(*line)
    ax.plot(xs, ys, color="black", linewidth=0.9, solid_capstyle="round", zorder=5)

for line in thick_lines:
    xs, ys = zip(*line)
    ax.plot(xs, ys, color="black", linewidth=3.0, solid_joinstyle="miter", solid_capstyle="round", zorder=6)

ax.add_patch(Rectangle((0, 0), 1568, 1568, facecolor="none", edgecolor="black", linewidth=7.9, zorder=7))

for text, x, y, size, spacing in zip(group_labels, label_x, label_y, label_size, label_spacing):
    shadow = max(size * 0.014, 0.4)
    ax.text(x, y, text, color="white", fontsize=size, fontweight="bold", family="DejaVu Sans",
            ha="center", va="center", multialignment="center", linespacing=spacing, zorder=8,
            path_effects=[pe.withSimplePatchShadow(offset=(shadow, -shadow), shadow_rgbFace="black", alpha=0.8),
                          pe.Normal()])

fig.savefig("out.png", dpi=200, facecolor="black")
